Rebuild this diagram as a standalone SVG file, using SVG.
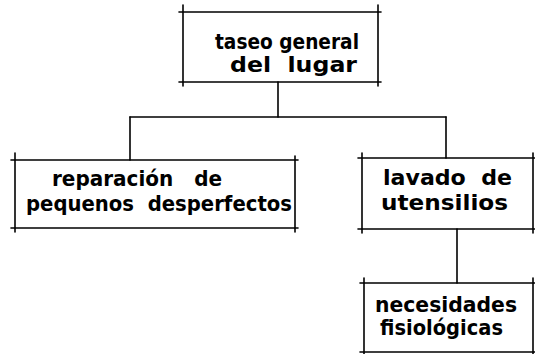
<svg xmlns="http://www.w3.org/2000/svg" width="535" height="354" viewBox="0 0 535 354">
<style>
.b line{stroke:#000;stroke-width:1.6;stroke-linecap:round}
.c line{stroke:#000;stroke-width:1.6;stroke-linecap:round}
text{font-family:"DejaVu Sans","Liberation Sans",sans-serif;font-weight:bold;font-size:21px;fill:#000;white-space:pre}
</style>
<rect width="535" height="354" fill="#fff"/>
<g id="connectors" class="c">
<line x1="278" y1="82" x2="278" y2="117"/>
<line x1="130" y1="117" x2="446" y2="117"/>
<line x1="130" y1="117" x2="130" y2="160"/>
<line x1="446" y1="117" x2="446" y2="158"/>
<line x1="457" y1="229" x2="457" y2="283"/>
</g>
<g id="n1" class="b">
<line x1="179" y1="12" x2="381" y2="12"/>
<line x1="179" y1="82" x2="381" y2="82"/>
<line x1="183" y1="5" x2="183" y2="86"/>
<line x1="378" y1="5" x2="378" y2="86"/>
<text x="215" y="49" textLength="144" lengthAdjust="spacingAndGlyphs" xml:space="preserve">taseo general</text>
<text x="230" y="72" textLength="127" lengthAdjust="spacingAndGlyphs" xml:space="preserve">del  lugar</text>
</g>
<g id="n2" class="b">
<line x1="11" y1="160" x2="298" y2="160"/>
<line x1="11" y1="228" x2="298" y2="228"/>
<line x1="15" y1="153" x2="15" y2="232"/>
<line x1="295" y1="156" x2="295" y2="232"/>
<text x="52" y="186" textLength="170" lengthAdjust="spacingAndGlyphs" xml:space="preserve">reparación   de</text>
<text x="26" y="211" textLength="266" lengthAdjust="spacingAndGlyphs" xml:space="preserve">pequenos  desperfectos</text>
</g>
<g id="n3" class="b">
<line x1="358" y1="158" x2="535" y2="158"/>
<line x1="358" y1="229" x2="535" y2="229"/>
<line x1="362" y1="153" x2="362" y2="233"/>
<line x1="533" y1="153" x2="533" y2="233"/>
<text x="383" y="185" textLength="129" lengthAdjust="spacingAndGlyphs" xml:space="preserve">lavado  de</text>
<text x="381" y="210" textLength="127" lengthAdjust="spacingAndGlyphs" xml:space="preserve">utensilios</text>
</g>
<g id="n4" class="b">
<line x1="360" y1="283" x2="535" y2="283"/>
<line x1="360" y1="352" x2="535" y2="352"/>
<line x1="364" y1="278" x2="364" y2="354"/>
<line x1="533" y1="278" x2="533" y2="354"/>
<text x="375" y="312" textLength="142" lengthAdjust="spacingAndGlyphs" xml:space="preserve">necesidades</text>
<text x="380" y="335" textLength="123" lengthAdjust="spacingAndGlyphs" xml:space="preserve">fisiológicas</text>
</g>
</svg>
